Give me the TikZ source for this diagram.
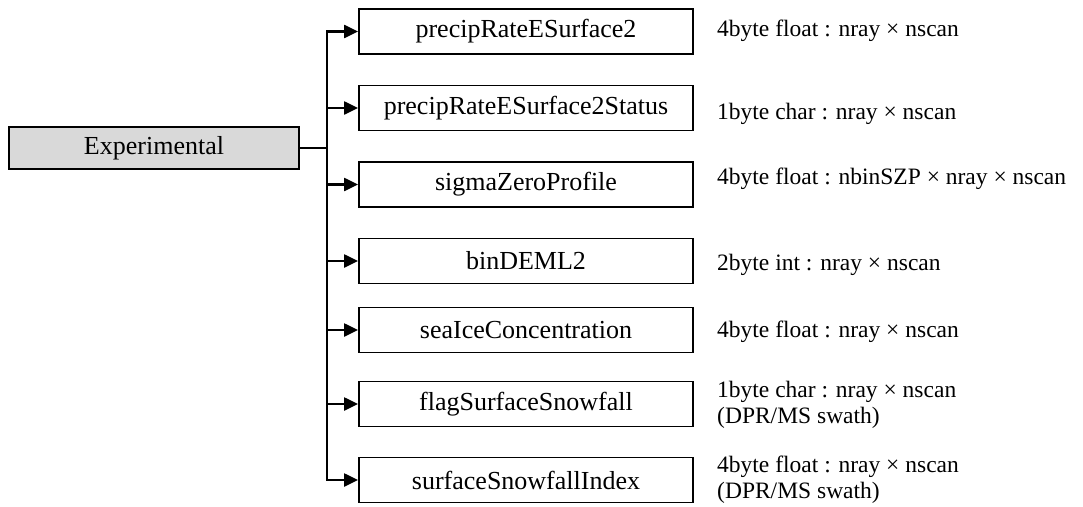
\documentclass[tikz,border=0pt]{standalone}
\usepackage{fontspec}
\setmainfont{Liberation Serif}
\usetikzlibrary{arrows.meta}
\tikzset{
  boxstyle/.style={draw=black, line width=1.8pt, minimum width=334pt, minimum height=45pt, inner sep=0pt, font=\fontsize{26}{30}\selectfont},
  rootstyle/.style={draw=black, fill=gray!30, line width=1.8pt, minimum width=290pt, minimum height=42pt, inner sep=0pt, font=\fontsize{26}{30}\selectfont},
  infostyle/.style={anchor=base west, inner sep=0pt, font=\fontsize{23.5}{26}\selectfont},
  conn/.style={draw=black, line width=2.2pt},
  tipstyle/.style={-{Triangle[length=14pt,width=13pt]}},
}
\begin{document}
\begin{tikzpicture}[x=1pt,y=-1pt]
\useasboundingbox (0,0) rectangle (1083,506);
\node[rootstyle] (exp) at (154,148) {Experimental};
\node[boxstyle] (b1) at (526,31.5) {precipRateESurface2};
\node[boxstyle] (b2) at (526,108) {precipRateESurface2Status};
\node[boxstyle] (b3) at (526,184.5) {sigmaZeroProfile};
\node[boxstyle] (b4) at (526,261) {binDEML2};
\node[boxstyle] (b5) at (526,330) {seaIceConcentration};
\node[boxstyle] (b6) at (526,404) {flagSurfaceSnowfall};
\node[boxstyle] (b7) at (526,480) {surfaceSnowfallIndex};
\coordinate (jx) at (327,148);
\draw[conn] (exp.east) -- (jx);
\draw[conn, {Triangle[length=14pt,width=13pt]}-{Triangle[length=14pt,width=13pt]}] (b1.west) -| (jx) |- (b7.west);
\foreach \b in {b2,b3,b4,b5,b6} {
  \draw[conn, tipstyle] (\b.west -| jx) -- (\b.west);
}
\node[infostyle] (r1) at (717,36.5) {4byte float : nray × nscan};
\node[infostyle] (r2) at (717,119) {1byte char : nray × nscan};
\node[infostyle] (r3) at (717,184) {4byte float : nbinSZP × nray × nscan};
\node[infostyle] (r4) at (717,270) {2byte int : nray × nscan};
\node[infostyle] (r5) at (717,337) {4byte float : nray × nscan};
\node[infostyle] (r6a) at (717,397) {1byte char : nray × nscan};
\node[infostyle] (r6b) at (717,423) {(DPR/MS swath)};
\node[infostyle] (r7a) at (717,472) {4byte float : nray × nscan};
\node[infostyle] (r7b) at (717,498) {(DPR/MS swath)};
\end{tikzpicture}
\end{document}
